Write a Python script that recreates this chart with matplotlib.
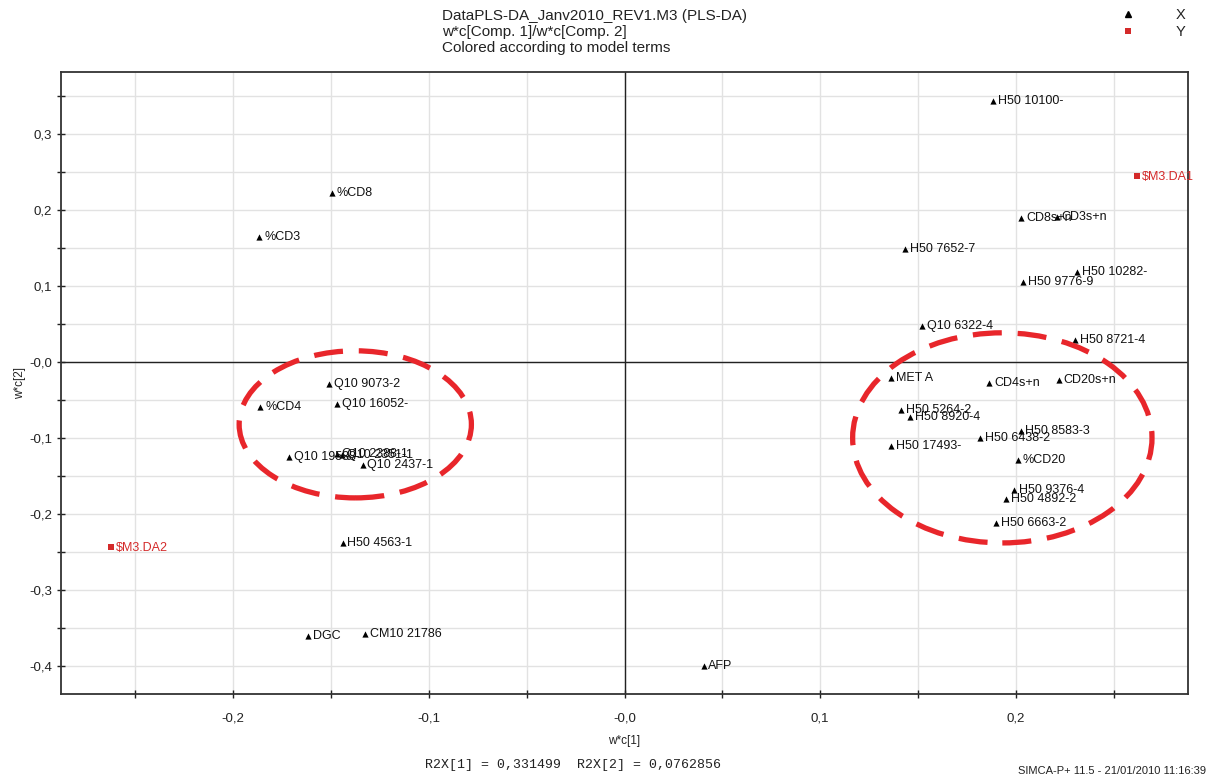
import numpy as np
import matplotlib.pyplot as plt
from matplotlib.patches import Ellipse
from matplotlib.ticker import MultipleLocator, FuncFormatter

plt.rcParams['font.family'] = ['Liberation Sans', 'DejaVu Sans']

# X-variables (model terms) : w*c[1], w*c[2]
x_names = ['%CD8', '%CD3', '%CD4', 'Q10 9073-2', 'Q10 16052-', 'Q10 19588-',
           'Q10 2388-1', 'Q10 2351-1', 'Q10 2437-1', 'H50 4563-1', 'DGC', 'CM10 21786',
           'AFP', 'H50 10100-', 'CD8s+n', 'CD3s+n', 'H50 7652-7', 'H50 10282-',
           'H50 9776-9', 'Q10 6322-4', 'H50 8721-4', 'MET A', 'CD4s+n', 'CD20s+n',
           'H50 5264-2', 'H50 8920-4', 'H50 8583-3', 'H50 6438-2', 'H50 17493-',
           '%CD20', 'H50 9376-4', 'H50 4892-2', 'H50 6663-2']
x_wc1 = [-0.1497, -0.1867, -0.1862, -0.1512, -0.1471, -0.1714,
         -0.1470, -0.1445, -0.1339, -0.1441, -0.1616, -0.1328,
         0.0404, 0.1884, 0.2027, 0.2208, 0.1432, 0.2314,
         0.2037, 0.1519, 0.2302, 0.1364, 0.1864, 0.2220,
         0.1415, 0.1458, 0.2024, 0.1816, 0.1361,
         0.2009, 0.1991, 0.1949, 0.1901]
x_wc2 = [0.2220, 0.1638, -0.0589, -0.0294, -0.0558, -0.1256,
         -0.1218, -0.1224, -0.1361, -0.2389, -0.3610, -0.3584,
         -0.4005, 0.3430, 0.1888, 0.1901, 0.1480, 0.1182,
         0.1045, 0.0474, 0.0290, -0.0215, -0.0272, -0.0237,
         -0.0632, -0.0729, -0.0905, -0.1006, -0.1107,
         -0.1291, -0.1686, -0.1809, -0.2125]

# Y-variables (class responses)
y_names = ['$M3.DA1', '$M3.DA2']
y_wc1 = [0.2619, -0.2622]
y_wc2 = [0.2442, -0.2441]

red = '#d42a2a'

fig = plt.figure(figsize=(12.06, 7.76), dpi=100)
ax = fig.add_axes([61 / 1206, 1 - 694 / 776, 1127 / 1206, 622 / 776])

ax.set_xlim(-0.288, 0.288)
ax.set_ylim(-0.4374, 0.3817)

# grid every 0.05, labels every 0.1
for axis in (ax.xaxis, ax.yaxis):
    axis.set_major_locator(MultipleLocator(0.1))
    axis.set_minor_locator(MultipleLocator(0.05))

def comma_fmt(v, pos):
    s = f'{v:.1f}'.replace('.', ',')
    if s == '0,0':
        s = '-0,0'
    return s

ax.xaxis.set_major_formatter(FuncFormatter(comma_fmt))
ax.yaxis.set_major_formatter(FuncFormatter(comma_fmt))
ax.tick_params(which='both', direction='inout', length=6, width=1, color='#222222',
               labelsize=9.5, labelcolor='#222222')
ax.tick_params(axis='x', pad=10)
ax.grid(True, which='both', color='#e2e2e2', linewidth=1)
ax.set_axisbelow(True)
for sp in ax.spines.values():
    sp.set_color('#333333')
    sp.set_linewidth(1.3)

ax.axhline(0, color='#222222', linewidth=1, zorder=2)
ax.axvline(0, color='#222222', linewidth=1, zorder=2)

ax.scatter(x_wc1, x_wc2, marker='^', s=20, color='black', zorder=3, linewidths=0)
for name, a, b in zip(x_names, x_wc1, x_wc2):
    ax.annotate(name, (a, b), xytext=(3.5, 0), textcoords='offset points',
                va='center', ha='left', fontsize=9, color='#111111', zorder=4)

ax.scatter(y_wc1, y_wc2, marker='s', s=18, color=red, zorder=3, linewidths=0)
for name, a, b in zip(y_names, y_wc1, y_wc2):
    ax.annotate(name, (a, b), xytext=(3.5, -0.5), textcoords='offset points',
                va='center', ha='left', fontsize=9, color=red, zorder=4)

# dashed ellipses around the two groups
for cx, cy, w, h in [(-0.1376, -0.0823, 0.1187, 0.1937), (0.1931, -0.1001, 0.1530, 0.2767)]:
    ax.add_patch(Ellipse((cx, cy), w, h, fill=False, edgecolor='#e8262b',
                         linewidth=3.8, linestyle=(0, (5.5, 3)), zorder=5))

ax.set_xlabel('w*c[1]', fontsize=8.5, labelpad=8, color='#222222')
ax.set_ylabel('w*c[2]', fontsize=8.5, labelpad=2, color='#222222')

fig.text(442 / 1206, 1 - 16 / 776, 'DataPLS-DA_Janv2010_REV1.M3 (PLS-DA)',
         fontsize=11, va='center', ha='left', color='#222222')
fig.text(442 / 1206, 1 - 32 / 776, 'w*c[Comp. 1]/w*c[Comp. 2]',
         fontsize=11, va='center', ha='left', color='#222222')
fig.text(442 / 1206, 1 - 48 / 776, 'Colored according to model terms',
         fontsize=11, va='center', ha='left', color='#222222')

# legend
fig.lines.append(plt.Line2D([1128 / 1206], [1 - 14 / 776], marker='^', markersize=4,
                            color='black', linestyle='none', transform=fig.transFigure))
fig.lines.append(plt.Line2D([1128 / 1206], [1 - 31 / 776], marker='s', markersize=4,
                            color=red, markeredgewidth=0, linestyle='none',
                            transform=fig.transFigure))
fig.text(1181 / 1206, 1 - 15 / 776, 'X', fontsize=10.5, va='center', ha='center', color='#222222')
fig.text(1181 / 1206, 1 - 32 / 776, 'Y', fontsize=10.5, va='center', ha='center', color='#222222')

fig.text(425 / 1206, 1 - 765 / 776, 'R2X[1] = 0,331499  R2X[2] = 0,0762856',
         fontsize=9.5, family='Liberation Mono', va='center', ha='left', color='#222222')
fig.text(1206 / 1206, 1 - 771 / 776, 'SIMCA-P+ 11.5 - 21/01/2010 11:16:39',
         fontsize=8, va='center', ha='right', color='#222222')

fig.savefig('out.png', dpi=100)
